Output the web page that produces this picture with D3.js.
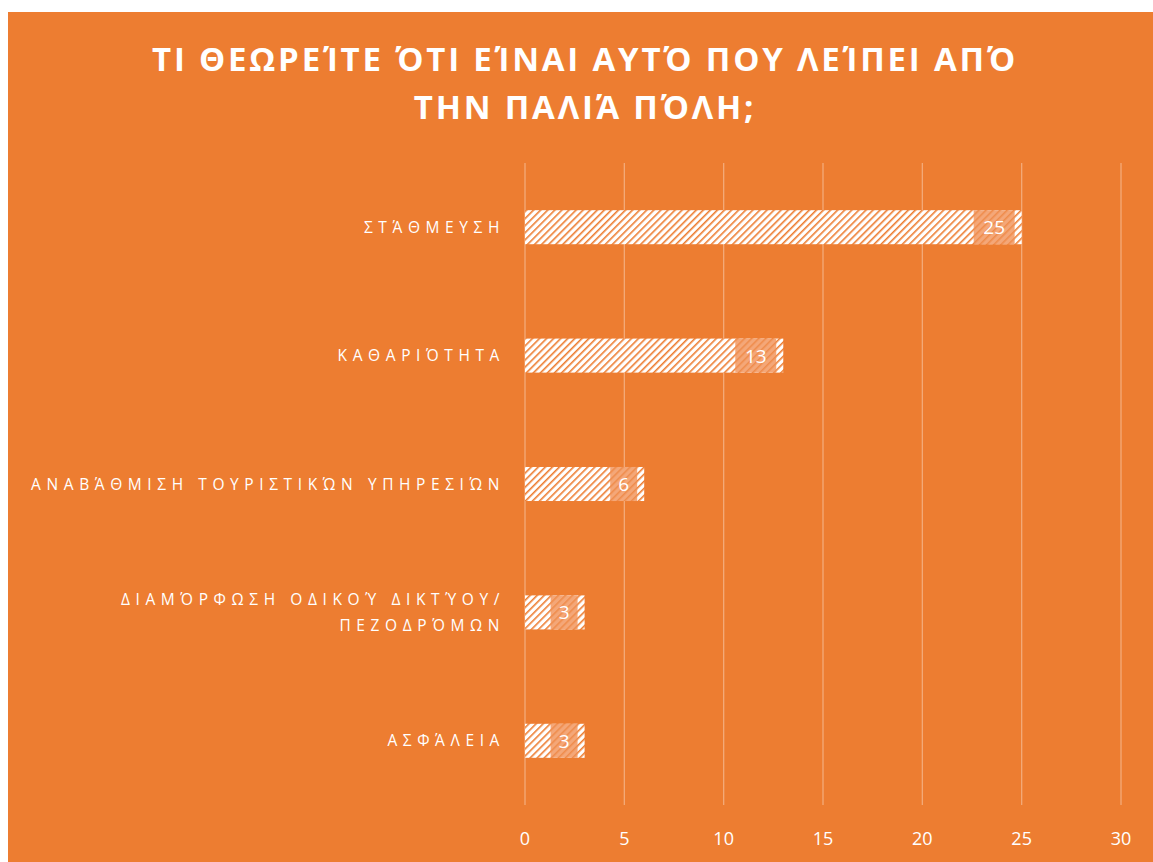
<!DOCTYPE html>
<html>
<head>
<meta charset="utf-8">
<script src="https://cdn.jsdelivr.net/npm/d3@7"></script>
<style>
  body { margin: 0; background: #ffffff; }
  svg { display: block; }
</style>
</head>
<body>
<div id="chart"></div>
<script>
// data
const categories = [
  ["ΣΤΆΘΜΕΥΣΗ"],
  ["ΚΑΘΑΡΙΌΤΗΤΑ"],
  ["ΑΝΑΒΆΘΜΙΣΗ ΤΟΥΡΙΣΤΙΚΏΝ ΥΠΗΡΕΣΙΏΝ"],
  ["ΔΙΑΜΌΡΦΩΣΗ ΟΔΙΚΟΎ ΔΙΚΤΎΟΥ/", "ΠΕΖΟΔΡΌΜΩΝ"],
  ["ΑΣΦΆΛΕΙΑ"]
]
const values = [25, 13, 6, 3, 3]
const xTicks = [0, 5, 10, 15, 20, 25, 30]
const titleLines = ["ΤΙ ΘΕΩΡΕΊΤΕ ΌΤΙ ΕΊΝΑΙ ΑΥΤΌ ΠΟΥ ΛΕΊΠΕΙ ΑΠΌ", "ΤΗΝ ΠΑΛΙΆ ΠΌΛΗ;"]

const W = 1153, H = 862
const orange = "#ED7D31"
const margin = { top: 163, right: 32, bottom: 57, left: 525 }

const svg = d3.select("#chart").append("svg")
  .attr("width", W)
  .attr("height", H)

//hatch pattern used by the bars
const defs = svg.append("defs")
const pat = defs.append("pattern")
  .attr("id", "hatch")
  .attr("patternUnits", "userSpaceOnUse")
  .attr("width", 5)
  .attr("height", 5)
  .attr("patternTransform", "rotate(45)")
pat.append("rect").attr("width", 5).attr("height", 5).attr("fill", "#ffffff")
pat.append("rect").attr("x", 0).attr("width", 1.6).attr("height", 5).attr("fill", orange)

const pat2 = defs.append("pattern")
  .attr("id", "hatchLabel")
  .attr("patternUnits", "userSpaceOnUse")
  .attr("width", 5)
  .attr("height", 5)
  .attr("patternTransform", "rotate(45)")
pat2.append("rect").attr("width", 5).attr("height", 5).attr("fill", "#F4A778")
pat2.append("rect").attr("x", 0).attr("width", 1.6).attr("height", 5).attr("fill", "#EF8C4C")

svg.append("rect")
  .attr("x", 8)
  .attr("y", 12)
  .attr("width", W - 8)
  .attr("height", H - 12)
  .attr("fill", orange)

// title
svg.append("text")
  .attr("x", 583)
  .attr("y", 71)
  .attr("text-anchor", "middle")
  .attr("fill", "#ffffff")
  .attr("font-family", "'Open Sans', sans-serif")
  .attr("font-weight", "bold")
  .attr("font-size", 33)
  .attr("letter-spacing", 2.8)
  .selectAll("tspan")
  .data(titleLines)
  .join("tspan")
  .attr("x", 585)
  .attr("dy", (d, i) => i === 0 ? 0 : 48)
  .text(d => d)

const x = d3.scaleLinear([0, 30], [margin.left, W - margin.right])
const y = d3.scaleBand(d3.range(categories.length), [margin.top, H - margin.bottom])
  .paddingInner(0.735)
  .paddingOuter(0.3675)

// gridlines
svg.append("g")
  .selectAll("line")
  .data(xTicks)
  .join("line")
  .attr("x1", d => x(d))
  .attr("x2", d => x(d))
  .attr("y1", margin.top)
  .attr("y2", H - margin.bottom)
  .attr("stroke", "#ffffff")
  .attr("stroke-opacity", 0.35)
  .attr("stroke-width", 1.3)

// x axis labels
svg.append("g")
  .selectAll("text")
  .data(xTicks)
  .join("text")
  .attr("x", d => x(d))
  .attr("y", 845)
  .attr("text-anchor", "middle")
  .attr("fill", "#ffffff")
  .attr("font-family", "'Open Sans', sans-serif")
  .attr("font-size", 18)
  .text(d => d)

// bars
const bars = svg.append("g")
bars.selectAll("rect")
  .data(values)
  .join("rect")
  .attr("x", x(0))
  .attr("y", (d, i) => y(i))
  .attr("width", d => x(d) - x(0))
  .attr("height", y.bandwidth())
  .attr("fill", "url(#hatch)")

// data labels
const lbl = svg.append("g")
values.forEach((v, i) => {
  const w = String(v).length > 1 ? 41 : 27
  const right = x(v) - 7
  lbl.append("rect")
    .attr("x", right - w)
    .attr("y", y(i))
    .attr("width", w)
    .attr("height", y.bandwidth())
    .attr("fill", "url(#hatchLabel)")
  lbl.append("text")
    .attr("x", right - w / 2)
    .attr("y", y(i) + y.bandwidth() / 2 + 7)
    .attr("text-anchor", "middle")
    .attr("fill", "#ffffff")
    .attr("font-family", "'Open Sans', sans-serif")
    .attr("font-size", 19)
    .text(v)
})

// category labels
const cat = svg.append("g")
categories.forEach((lines, i) => {
  const cy = y(i) + y.bandwidth() / 2
  const t = cat.append("text")
    .attr("text-anchor", "end")
    .attr("fill", "#ffffff")
    .attr("font-family", "'Open Sans', sans-serif")
    .attr("font-size", 15.5)
    .attr("letter-spacing", 5.6)
  lines.forEach((line, j) => {
    t.append("tspan")
      .attr("x", 505)
      .attr("y", cy + 5.5 + (j - (lines.length - 1) / 2) * 26)
      .text(line)
  })
})
</script>
</body>
</html>
